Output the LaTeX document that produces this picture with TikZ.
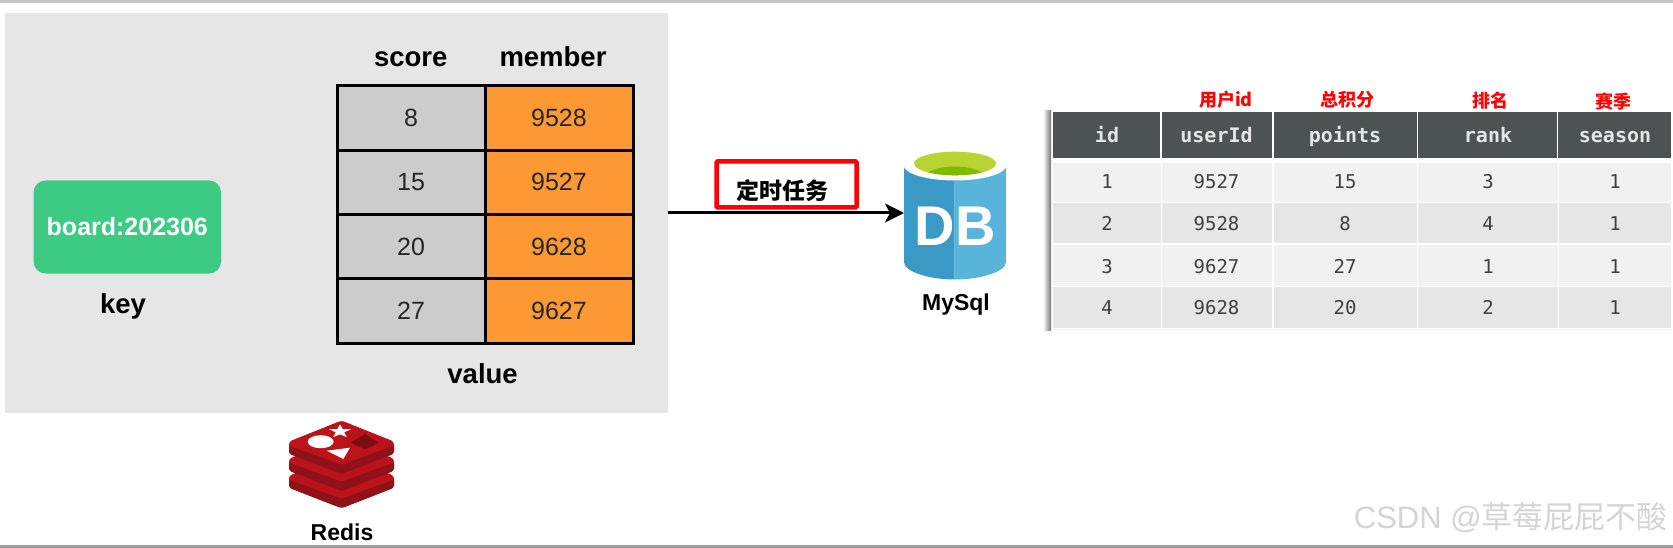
\documentclass[tikz,border=0pt]{standalone}
\usepackage{fontspec}
\usetikzlibrary{arrows.meta}
\setmainfont{Liberation Sans}
\newfontfamily\cjk{Noto Sans CJK SC}
\newfontfamily\monof{DejaVu Sans Mono}
\definecolor{panelgray}{HTML}{E6E6E6}
\definecolor{cellgray}{HTML}{CCCCCC}
\definecolor{cellorange}{HTML}{FF9933}
\definecolor{keygreen}{HTML}{3DCB84}
\definecolor{headdark}{HTML}{4D5353}
\definecolor{rowa}{HTML}{F1F1F1}
\definecolor{rowb}{HTML}{E6E6E6}
\definecolor{dbleft}{HTML}{3B99C5}
\definecolor{dbright}{HTML}{59B4D9}
\definecolor{dblime}{HTML}{B8D432}
\definecolor{dbgreen}{HTML}{7FBA00}
\definecolor{redbright}{HTML}{BC1219}
\definecolor{reddark}{HTML}{8E1218}
\definecolor{redmark}{HTML}{7A0E12}
\newcommand{\fsz}[1]{\fontsize{#1}{#1}\selectfont}
\newcommand{\lowr}[1]{\raisebox{-1.5pt}{#1}}
\tikzset{
  lbl/.style={inner sep=0pt,font=\fsz{27.5}\bfseries,text=black},
  toplbl/.style={lbl,text height=20pt,text depth=0pt},
  smalllbl/.style={inner sep=0pt,font=\fsz{23}\bfseries,text=black},
  scorecell/.style={draw=black,line width=3pt,fill=cellgray,minimum width=148pt,minimum height=64.4pt,inner sep=0pt,font=\fsz{25},text=black!85},
  membercell/.style={draw=black,line width=3pt,fill=cellorange,minimum width=148pt,minimum height=64.4pt,inner sep=0pt,font=\fsz{25},text=black!85},
  headcell/.style={fill=headdark,inner sep=0pt,font=\monof\fsz{20}\bfseries,text=white!90!black},
  headtxt/.style={headcell,fill=none,text height=15pt,text depth=0pt},
  bodycell/.style={inner sep=0pt,font=\monof\fsz{19},text=black!75,text height=14pt,text depth=0pt},
  redlbl/.style={inner sep=0pt,font=\cjk\fsz{18}\bfseries,text=red},
}
\begin{document}
\begin{tikzpicture}[x=1pt,y=-1pt]
\useasboundingbox (0,0) rectangle (1673,548);
\fill[white] (0,0) rectangle (1673,548);
\fill[black!22] (0,0) rectangle (1673,3);
\fill[black!38] (0,545) rectangle (1673,548);
% panel
\node (panel) [fill=panelgray,minimum width=663pt,minimum height=400pt,inner sep=0pt] at (336.5,213) {};
% key
\node (keybox) [fill=keygreen,rounded corners=12pt,minimum width=187.5pt,minimum height=93pt,inner sep=0pt,font=\fsz{25}\bfseries,text=white] at (127.3,227) {\lowr{board:202306}};
\node (keylbl) [lbl] at (123,306) {key};
% table
\node (scorehd) [toplbl] at (410.7,57) {score};
\node (memberhd) [toplbl] at (553,57) {member};
\node (s1) [scorecell] at (411,118) {\lowr{8}};
\node (s2) [scorecell] at (411,182.3) {\lowr{15}};
\node (s3) [scorecell] at (411,246.7) {\lowr{20}};
\node (s4) [scorecell] at (411,311) {\lowr{27}};
\node (m1) [membercell] at (559,118) {\lowr{9528}};
\node (m2) [membercell] at (559,182.3) {\lowr{9527}};
\node (m3) [membercell] at (559,246.7) {\lowr{9628}};
\node (m4) [membercell] at (559,311) {\lowr{9627}};
\node (valuelbl) [lbl] at (482.6,373.5) {value};
% redis icon
\coordinate (redisc) at (341.5,441.7);
\begin{scope}[shift={(341.5,441.7)}]
  \foreach \dy in {34,17,0}{
    \fill[redbright,rounded corners=3pt] (-52.5,\dy) -- (0,{\dy-21}) -- (52.5,\dy) -- (52.5,{\dy+12}) -- (0,{\dy+32.5}) -- (-52.5,{\dy+12}) -- cycle;
    \fill[reddark,rounded corners=2pt] (-52.5,{\dy+4}) -- (0,{\dy+23}) -- (52.5,{\dy+4}) -- (52.5,{\dy+12}) -- (0,{\dy+32.5}) -- (-52.5,{\dy+12}) -- cycle;
  }
  \fill[redbright,rounded corners=3pt] (-52.5,0) -- (0,-21) -- (52.5,0) -- (0,23.5) -- cycle;
  \fill[white] (-20.8,0) ellipse [x radius=13pt,y radius=6.5pt];
  \fill[white] (-14.8,9) -- (8.5,6) -- (1.8,17.3) -- cycle;
  \fill[white] (-1.5,-17.3) -- (1.1,-12.7) -- (9.4,-12.5) -- (2.8,-9.4) -- (5.3,-4.6) -- (-1.5,-7.3) -- (-8.3,-4.6) -- (-5.8,-9.4) -- (-12.4,-12.5) -- (-4.1,-12.7) -- cycle;
  \fill[redmark] (9.5,1) -- (23.5,-7.5) -- (37.5,1) -- (23.5,7.5) -- cycle;
  \fill[reddark!85!black] (9.5,1) -- (23.5,-7.5) -- (23.5,7.5) -- cycle;
\end{scope}
\node (redislbl) [smalllbl] at (342,532) {Redis};
% arrow
\coordinate (dbin) at (904,213);
\draw[line width=3pt,-{Stealth[length=19pt,width=19pt,inset=5pt]}] (panel.east) -- (dbin);
% job
\node (job) [draw=red,line width=4.5pt,rounded corners=1pt,minimum width=140pt,minimum height=46pt,inner sep=0pt] at (786.5,184.5) {};
\node (jobtxt) [inner sep=0pt,font=\cjk\fsz{23}\bfseries,text=black] at (782,191) {定时任务};
% db
\fill[dbleft] (904,165) -- (904,262) .. controls (904,272) and (930,279.5) .. (954.5,279.5) -- (954.5,165) -- cycle;
\fill[dbright] (1006,165) -- (1006,262) .. controls (1006,272) and (980,279.5) .. (954.5,279.5) -- (954.5,165) -- cycle;
\fill[white] (955,165) ellipse [x radius=51.5pt,y radius=15.5pt];
\fill[dblime] (955,163.5) ellipse [x radius=41pt,y radius=11.8pt];
\begin{scope}
  \clip (955,163.5) ellipse [x radius=41pt,y radius=11.8pt];
  \fill[dbgreen] (955,186) ellipse [x radius=38pt,y radius=19.5pt];
\end{scope}
\node (dbtxt) [inner sep=0pt,font=\fsz{56}\bfseries,text=white] at (955,226) {DB};
\node (mysql) [smalllbl] at (956,305) {MySql};
% result table
\shade[left color=white,right color=black!55] (1043,111) rectangle (1051,330);
\foreach \ya/\yb/\col in {162.7/201.7/rowa,203.3/243.3/rowb,245/285.7/rowa,287.3/327.7/rowb,329.3/330/rowa}{
  \foreach \xa/\xb in {1053/1161,1162/1272,1273.5/1417,1418/1557.5,1558.5/1671}{
    \fill[\col] (\xa,\ya) rectangle (\xb,\yb);
  }
}
\node (h1) [headcell,minimum width=107.5pt,minimum height=46pt] at (1106.7,135) {};
\node (h2) [headcell,minimum width=110pt,minimum height=46pt] at (1217,135) {};
\node (h3) [headcell,minimum width=143pt,minimum height=46pt] at (1345.2,135) {};
\node (h4) [headcell,minimum width=139.5pt,minimum height=46pt] at (1487.7,135) {};
\node (h5) [headcell,minimum width=112.5pt,minimum height=46pt] at (1614.7,135) {};
\foreach \nm/\x/\t in {ha/1107/id,hb/1216.5/userId,hc/1345/points,hd/1488/rank,he/1615/season}{
  \node (\nm) [headtxt] at (\x,135.5) {\t};
}
\foreach \rn/\y/\a/\b/\c/\d/\e in {p/181.7/1/9527/15/3/1,q/224/2/9528/8/4/1,r/266/3/9627/27/1/1,t/307.7/4/9628/20/2/1}{
  \node (\rn1) [bodycell] at (1107,\y) {\a};
  \node (\rn2) [bodycell] at (1216.5,\y) {\b};
  \node (\rn3) [bodycell] at (1345,\y) {\c};
  \node (\rn4) [bodycell] at (1488,\y) {\d};
  \node (\rn5) [bodycell] at (1615,\y) {\e};
}
\node (c1) [redlbl] at (1226,100) {用户id};
\node (c2) [redlbl] at (1347,100) {总积分};
\node (c3) [redlbl] at (1490,100.5) {排名};
\node (c4) [redlbl] at (1613,101.5) {赛季};
% watermark
\node (wm) [anchor=east,inner sep=0pt,text=black!17,font=\fsz{31}] at (1668,518) {CSDN @{\cjk 草莓屁屁不酸}};
\end{tikzpicture}
\end{document}
